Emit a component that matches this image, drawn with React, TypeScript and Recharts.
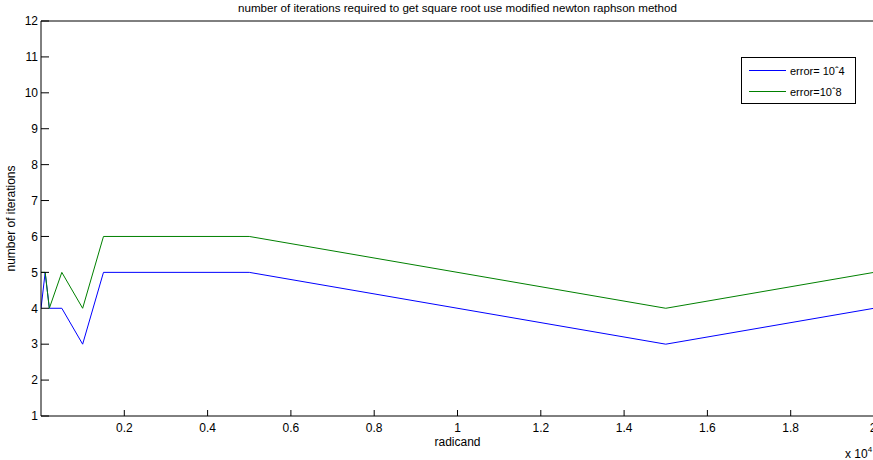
import React from "react";
import {
  LineChart,
  Line,
  XAxis,
  YAxis,
  Legend,
  Label,
} from "recharts";

// radicand values and iteration counts
const radicands = [1, 100, 200, 500, 1000, 1500, 5000, 15000, 20000];
const itersErr4 = [4, 5, 4, 4, 3, 5, 5, 3, 4];
const itersErr8 = [5, 5, 4, 5, 4, 6, 6, 4, 5];

const xTicks = [2000, 4000, 6000, 8000, 10000, 12000, 14000, 16000, 18000, 20000];
const yTicks = [1, 2, 3, 4, 5, 6, 7, 8, 9, 10, 11, 12];

const seriesNames = ["error= 10\u02C64", "error=10\u02C68"];
const seriesColors = ["#0000ff", "#008000"];

const FONT = "'Liberation Sans', Arial, sans-serif";

const data = radicands.map((x, i) => ({
  x,
  e4: itersErr4[i],
  e8: itersErr8[i],
}));

function LegendBox() {
  return (
    <div
      style={{
        width: 115,
        height: 47,
        border: "1px solid #000",
        background: "#fff",
        fontFamily: FONT,
        fontSize: 11,
        boxSizing: "border-box",
      }}
    >
      {seriesNames.map((name, i) => (
        <div
          key={name}
          style={{
            display: "flex",
            alignItems: "center",
            height: 21,
            marginTop: i === 0 ? 2 : 0,
          }}
        >
          <div
            style={{
              marginLeft: 7,
              width: 37,
              height: 1,
              background: seriesColors[i],
            }}
          />
          <span style={{ marginLeft: 4, color: "#000" }}>{name}</span>
        </div>
      ))}
    </div>
  );
}

export default function App() {
  const tickStyle = { fontSize: 12, fontFamily: FONT, fill: "#000" };
  return (
    <div
      style={{
        position: "absolute",
        left: 0,
        top: 0,
        width: 873,
        height: 460,
        background: "#fff",
        overflow: "hidden",
      }}
    >
      <LineChart
        width={876}
        height={460}
        data={data}
        margin={{ top: 20, right: 1, bottom: 14, left: 0 }}
      >
        <XAxis
          dataKey="x"
          type="number"
          domain={[0, 20000]}
          ticks={xTicks}
          allowDataOverflow
          height={30}
          tickSize={-6}
          tickMargin={13}
          tickFormatter={(v: number) => String(v / 10000)}
          tick={tickStyle}
          stroke="#000"
        >
          <Label
            value="radicand"
            position="bottom"
            offset={-9}
            style={{ fontSize: 12, fontFamily: FONT, fill: "#000" }}
          />
        </XAxis>
        <XAxis
          xAxisId="top"
          orientation="top"
          type="number"
          domain={[0, 20000]}
          ticks={xTicks}
          allowDataOverflow
          height={1}
          tickSize={-6}
          tick={false}
          stroke="#000"
        >
          <Label
            value="number of iterations required to get square root use modified newton raphson method"
            position="top"
            offset={8}
            style={{ fontSize: 11.6, fontFamily: FONT, fill: "#000" }}
          />
        </XAxis>
        <YAxis
          type="number"
          domain={[1, 12]}
          ticks={yTicks}
          allowDataOverflow
          width={41}
          tickSize={-8}
          tickMargin={11}
          tick={tickStyle}
          stroke="#000"
        >
          <Label
            value="number of iterations"
            angle={-90}
            position="insideLeft"
            offset={11}
            style={{
              fontSize: 12,
              fontFamily: FONT,
              fill: "#000",
              textAnchor: "middle",
            }}
          />
        </YAxis>
        <YAxis
          yAxisId="right"
          orientation="right"
          type="number"
          domain={[1, 12]}
          ticks={yTicks}
          allowDataOverflow
          width={1}
          tickSize={-8}
          tick={false}
          stroke="#000"
        />
        <Legend
          layout="vertical"
          align="center"
          verticalAlign="middle"
          content={() => <LegendBox />}
          wrapperStyle={{ left: 741, top: 57, width: 115, height: 47 }}
        />
        <Line
          dataKey="e4"
          name={seriesNames[0]}
          stroke={seriesColors[0]}
          strokeWidth={1}
          dot={false}
          isAnimationActive={false}
        />
        <Line
          dataKey="e8"
          name={seriesNames[1]}
          stroke={seriesColors[1]}
          strokeWidth={1}
          dot={false}
          isAnimationActive={false}
        />
      </LineChart>
      <div
        style={{
          position: "absolute",
          left: 845,
          top: 443,
          fontFamily: FONT,
          fontSize: 12,
          color: "#000",
          whiteSpace: "nowrap",
          lineHeight: "14px",
        }}
      >
        x 10<sup style={{ fontSize: 8, verticalAlign: "6px" }}>4</sup>
      </div>
    </div>
  );
}
